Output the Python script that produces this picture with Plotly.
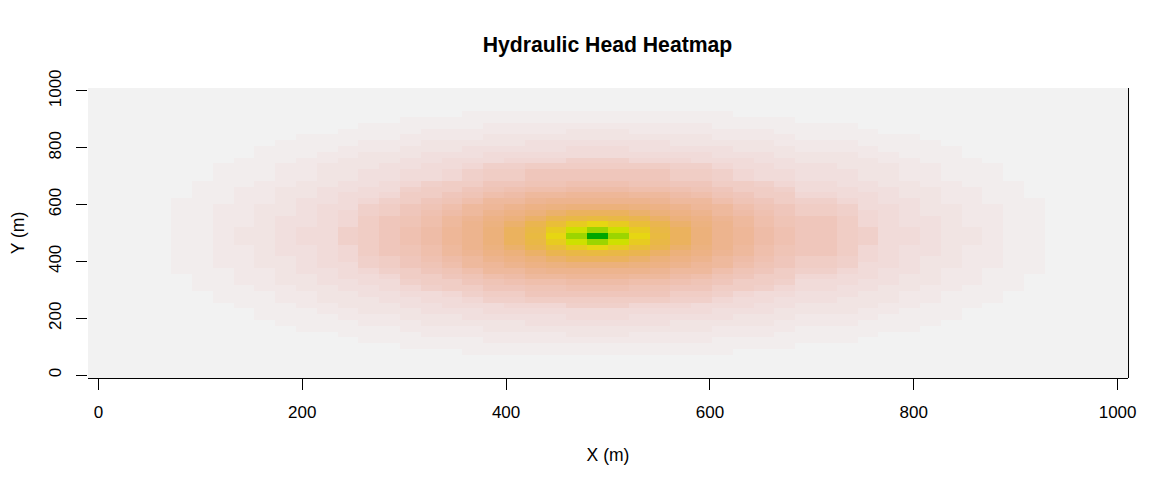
import colorsys
import numpy as np
import plotly.graph_objects as go

X_M = np.linspace(0, 1000, 50)
Y_M = np.linspace(0, 1000, 50)
X_TICKS = [0, 200, 400, 600, 800, 1000]
Y_TICKS = [0, 200, 400, 600, 800, 1000]
TITLE = "Hydraulic Head Heatmap"

r0 = [0,0,0,0, 1,1,2,3,3,4,5,5,8,9,11,13,15,18,20,24,30,36,46,63,100, 63,46,36,30,24,20,18,15,13,11,11,9,8,5,5,4,3,3,2,1,1, 0,0,0,0]
r1 = [0,0,0,0, 1,1,2,3,3,4,5,5,8,9,11,13,15,18,20,24,30,35,43,54,63, 54,43,35,30,24,20,18,15,13,11,11,9,8,5,5,4,3,3,2,1,1, 0,0,0,0]
r2 = [0,0,0,0, 1,1,2,2,3,4,4,5,6,9,11,12,14,17,20,23,27,33,38,43,46, 43,38,33,27,23,20,17,14,12,11,11,9,6,5,4,4,3,2,2,1,1, 0,0,0,0]
r3 = [0,0,0,0, 1,1,2,2,3,4,4,5,6,9,11,12,14,17,19,22,24,28,33,35,36, 35,33,28,24,22,19,17,14,12,11,11,9,6,5,4,4,3,2,2,1,1, 0,0,0,0]
r4 = [0,0,0,0, 1,1,2,2,3,3,4,5,6,8,9,11,13,15,17,20,22,24,27,30,30, 30,27,24,22,20,17,15,13,11,9,9,8,6,5,4,3,3,2,2,1,1, 0,0,0,0]
r5 = [0,0,0,0, 1,1,2,2,3,3,4,5,5,8,9,11,12,14,17,18,20,22,23,24,24, 24,23,22,20,18,17,14,12,11,9,9,8,5,5,4,3,3,2,2,1,1, 0,0,0,0]
r6 = [0,0,0,0, 1,1,1,2,2,3,4,4,5,6,8,9,11,12,14,17,17,19,20,20,20, 20,20,19,17,17,14,12,11,9,8,8,6,5,4,4,3,2,2,1,1,1, 0,0,0,0]
r7 = [0,0,0,0, 0,1,1,2,2,3,3,4,5,5,6,9,9,11,12,14,15,17,17,18,18, 18,17,17,15,14,12,11,9,9,6,6,5,5,4,3,3,2,2,1,1,0, 0,0,0,0]
r8 = [0,0,0,0, 0,1,1,2,2,3,3,4,4,5,5,8,9,9,11,12,13,14,14,15,15, 15,14,14,13,12,11,9,9,8,5,5,5,4,4,3,3,2,2,1,1,0, 0,0,0,0]
r9 = [0,0,0,0, 0,1,1,1,2,2,3,3,4,4,5,6,8,9,9,11,11,12,12,13,13, 13,12,12,11,11,9,9,8,6,5,5,4,4,3,3,2,2,1,1,1,0, 0,0,0,0]
r10 = [0,0,0,0, 0,0,1,1,1,2,2,3,3,4,4,5,5,6,8,9,9,11,11,11,11, 11,11,11,9,9,8,6,5,5,4,4,4,3,3,2,2,1,1,1,0,0, 0,0,0,0]
r11 = [0,0,0,0, 0,0,1,1,1,2,2,3,3,3,4,4,5,5,6,8,8,9,9,9,9, 9,9,9,8,8,6,5,5,4,4,4,3,3,3,2,2,1,1,1,0,0, 0,0,0,0]
r12 = [0,0,0,0, 0,0,0,1,1,1,2,2,3,3,3,4,4,5,5,5,6,6,6,8,8, 8,6,6,6,5,5,5,4,4,3,3,3,3,2,2,1,1,1,0,0,0, 0,0,0,0]
r13 = [0,0,0,0, 0,0,0,0,1,1,1,2,2,3,3,3,4,4,4,5,5,5,5,5,5, 5,5,5,5,5,4,4,4,3,3,3,3,2,2,1,1,1,0,0,0,0, 0,0,0,0]
r14 = [0,0,0,0, 0,0,0,0,1,1,1,1,2,2,2,3,3,3,4,4,4,4,4,5,5, 5,4,4,4,4,4,3,3,3,2,2,2,2,1,1,1,1,0,0,0,0, 0,0,0,0]
r15 = [0,0,0,0, 0,0,0,0,0,1,1,1,1,2,2,2,3,3,3,3,3,4,4,4,4, 4,4,4,3,3,3,3,3,2,2,2,2,1,1,1,1,0,0,0,0,0, 0,0,0,0]
r16 = [0,0,0,0, 0,0,0,0,0,0,1,1,1,1,1,2,2,2,2,3,3,3,3,3,3, 3,3,3,3,3,2,2,2,2,1,1,1,1,1,1,0,0,0,0,0,0, 0,0,0,0]
r17 = [0,0,0,0, 0,0,0,0,0,0,0,0,1,1,1,1,2,2,2,2,2,2,2,3,3, 3,2,2,2,2,2,2,2,1,1,1,1,1,0,0,0,0,0,0,0,0, 0,0,0,0]
r18 = [0,0,0,0, 0,0,0,0,0,0,0,0,0,1,1,1,1,1,1,2,2,2,2,2,2, 2,2,2,2,2,1,1,1,1,1,1,1,0,0,0,0,0,0,0,0,0, 0,0,0,0]
r19 = [0,0,0,0, 0,0,0,0,0,0,0,0,0,0,0,1,1,1,1,1,1,1,1,1,1, 1,1,1,1,1,1,1,1,1,0,0,0,0,0,0,0,0,0,0,0,0, 0,0,0,0]
r20 = [0,0,0,0, 0,0,0,0,0,0,0,0,0,0,0,0,0,0,1,1,1,1,1,1,1, 1,1,1,1,1,1,0,0,0,0,0,0,0,0,0,0,0,0,0,0,0, 0,0,0,0]
blank = [0] * 50

HEAD_LEVELS = [blank, blank, blank, blank,
               r20, r19, r18, r17, r16, r15, r14, r13, r12, r11, r10, r9, r8, r7, r6, r5, r4, r3, r2, r1, r0,
               r1, r2, r3, r4, r5, r6, r7, r8, r9, r10, r10, r11, r12, r13, r14, r15, r16, r17, r18, r19, r20,
               blank, blank, blank, blank]

# reversed terrain palette with 100 steps
N = 100
k = N // 2
pal = []
for i in range(k):
    f = i / (k - 1)
    pal.append(colorsys.hsv_to_rgb(1/3 + (1/6 - 1/3) * f, 1.0, 0.65 + (0.9 - 0.65) * f))
for i in range(1, N - k + 1):
    f = i / (N - k)
    pal.append(colorsys.hsv_to_rgb(1/6 * (1 - f), 1 - f, 0.9 + 0.05 * f))
pal = pal[::-1]
colors = ["rgb(%d,%d,%d)" % tuple(round(c * 255) for c in p) for p in pal]
scale = []
for i, c in enumerate(colors):
    scale.append([i / N, c])
    scale.append([(i + 1) / N, c])

FONT = "Liberation Sans, Arial, sans-serif"
fig = go.Figure(go.Heatmap(x=X_M, y=Y_M, z=HEAD_LEVELS, colorscale=scale, zmin=-0.5, zmax=100,
                           showscale=False, zsmooth=False))
fig.update_layout(
    width=1158, height=473, paper_bgcolor="white", plot_bgcolor="white",
    margin=dict(l=80, r=38, t=80, b=103, autoexpand=False),
    font=dict(family=FONT, size=17, color="black"),
    title=dict(text="<b>" + TITLE + "</b>", x=599.5 / 1158, xanchor="center", y=1 - 37 / 473, yanchor="middle",
               font=dict(size=21.2, family=FONT, color="black")),
    xaxis=dict(range=[-10.2, 1010.2], tickmode="array", tickvals=X_TICKS, ticks="outside", ticklen=11, tickwidth=1,
               tickcolor="black", showline=True, linecolor="black", linewidth=1, showgrid=False, zeroline=False,
               ticklabelstandoff=8, title=dict(text="X (m)", standoff=27, font=dict(size=17.5))),
    yaxis=dict(range=[-10.2, 1010.2], tickmode="array", tickvals=Y_TICKS, ticks="outside", ticklen=11, tickwidth=1,
               tickcolor="black", showline=False, showgrid=False, zeroline=False, tickangle=-90,
               ticklabelstandoff=8, title=dict(text="Y (m)", standoff=28, font=dict(size=17.5))),
    shapes=[dict(type="line", xref="paper", yref="paper", x0=1.0005, x1=1.0005, y0=0, y1=1, line=dict(color="black", width=1))],
)
fig.write_html("out.html")
